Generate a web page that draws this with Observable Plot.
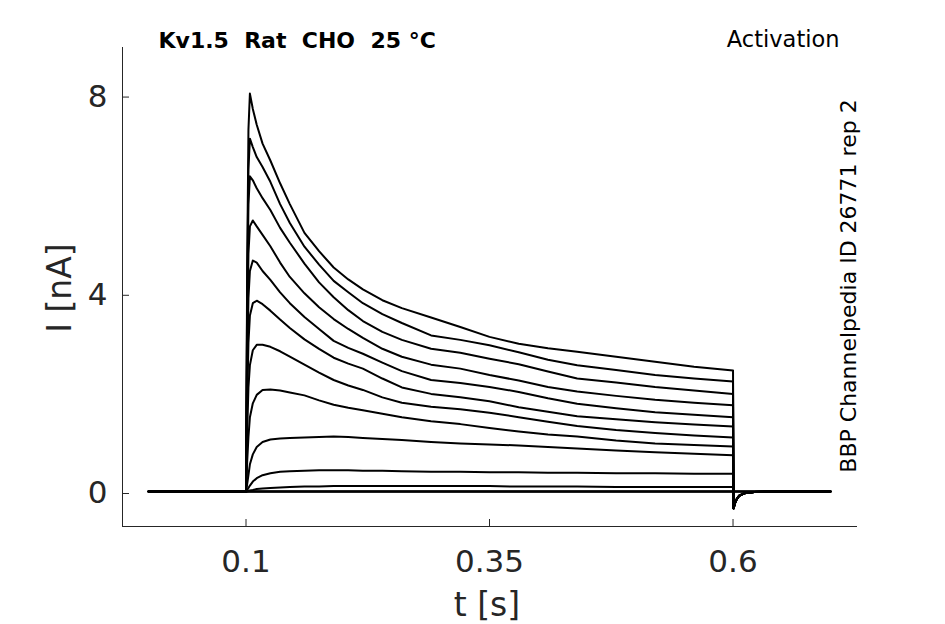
<!DOCTYPE html>
<html><head><meta charset="utf-8">
<script src="https://cdn.jsdelivr.net/npm/d3@7"></script>
<script src="https://cdn.jsdelivr.net/npm/@observablehq/plot@0.6"></script>
<style>body{margin:0;background:#fff;}</style>
</head><body><div id="chart"></div>
<script>
// Time grid (s) for the step phase, shared by all sweeps
const stepTimes = [0, 0.1, 0.1012, 0.1025, 0.104, 0.107, 0.111, 0.117, 0.125, 0.135, 0.145, 0.16, 0.175, 0.19, 0.205, 0.22, 0.24, 0.26, 0.29, 0.32, 0.35, 0.38, 0.41, 0.44, 0.48, 0.52, 0.56, 0.6];
// Current (nA) per sweep
const i1  = [0, 0, 4.5, 7.3, 8.03, 7.72, 7.40, 7.02, 6.68, 6.22, 5.80, 5.22, 4.85, 4.52, 4.28, 4.08, 3.86, 3.70, 3.51, 3.32, 3.12, 2.98, 2.89, 2.82, 2.72, 2.62, 2.52, 2.44];
const i2  = [0, 0, 4.0, 6.5, 7.12, 6.95, 6.75, 6.55, 6.25, 5.80, 5.42, 4.94, 4.58, 4.25, 4.02, 3.80, 3.58, 3.40, 3.15, 3.06, 2.95, 2.81, 2.66, 2.55, 2.45, 2.35, 2.28, 2.22];
const i3  = [0, 0, 3.6, 5.8, 6.36, 6.28, 6.12, 5.92, 5.68, 5.32, 5.02, 4.60, 4.22, 3.92, 3.66, 3.44, 3.22, 3.06, 2.88, 2.80, 2.68, 2.57, 2.42, 2.28, 2.20, 2.11, 2.04, 1.97];
const i4  = [0, 0, 3.0, 4.8, 5.35, 5.47, 5.35, 5.18, 4.95, 4.62, 4.33, 4.00, 3.72, 3.48, 3.28, 3.10, 2.88, 2.72, 2.56, 2.48, 2.35, 2.24, 2.11, 2.02, 1.93, 1.85, 1.79, 1.74];
const i5  = [0, 0, 2.4, 3.9, 4.45, 4.66, 4.62, 4.45, 4.27, 4.02, 3.80, 3.52, 3.28, 3.04, 2.90, 2.78, 2.60, 2.43, 2.25, 2.19, 2.11, 2.01, 1.88, 1.77, 1.68, 1.60, 1.55, 1.50];
const i6  = [0, 0, 1.8, 3.0, 3.55, 3.80, 3.85, 3.78, 3.65, 3.47, 3.30, 3.07, 2.88, 2.70, 2.58, 2.48, 2.28, 2.10, 1.97, 1.90, 1.82, 1.70, 1.61, 1.52, 1.46, 1.40, 1.35, 1.31];
const i7  = [0, 0, 1.2, 2.1, 2.55, 2.85, 2.96, 2.96, 2.92, 2.83, 2.72, 2.56, 2.40, 2.25, 2.14, 2.05, 1.90, 1.79, 1.71, 1.66, 1.59, 1.50, 1.41, 1.32, 1.24, 1.18, 1.13, 1.09];
const i8  = [0, 0, 0.6, 1.1, 1.5, 1.78, 1.95, 2.05, 2.06, 2.04, 2.00, 1.94, 1.84, 1.75, 1.69, 1.64, 1.57, 1.50, 1.42, 1.36, 1.28, 1.21, 1.15, 1.11, 1.03, 0.97, 0.94, 0.91];
const i9  = [0, 0, 0.15, 0.33, 0.55, 0.75, 0.90, 1.00, 1.05, 1.07, 1.08, 1.09, 1.10, 1.11, 1.10, 1.08, 1.06, 1.04, 1.00, 0.97, 0.95, 0.93, 0.90, 0.87, 0.83, 0.79, 0.76, 0.73];
const i10 = [0, 0, 0.03, 0.07, 0.12, 0.20, 0.27, 0.33, 0.37, 0.40, 0.41, 0.42, 0.43, 0.43, 0.43, 0.42, 0.42, 0.41, 0.40, 0.40, 0.39, 0.39, 0.38, 0.38, 0.37, 0.37, 0.36, 0.36];
const i11 = [0, 0, 0, 0.01, 0.02, 0.03, 0.05, 0.06, 0.07, 0.08, 0.09, 0.10, 0.10, 0.11, 0.11, 0.11, 0.11, 0.11, 0.11, 0.11, 0.11, 0.10, 0.10, 0.10, 0.09, 0.09, 0.09, 0.09];
const i0  = [0, 0, 0, 0, 0, 0, 0, 0, 0, 0, 0, 0, 0, 0, 0, 0, 0, 0, 0, 0, 0, 0, 0, 0, 0, 0, 0, 0];
// Tail current after the step (s, nA)
const tailTimes   = [0.6005, 0.6027, 0.6061, 0.6113, 0.6216, 0.64, 0.7];
const tailCurrent = [-0.34, -0.19, -0.09, -0.036, -0.012, 0, 0];
const tailZero    = [0, 0, 0, 0, 0, 0, 0];
// Axes
const xDomain = [-0.0268, 0.7278];
const yDomain = [-0.706, 8.96];
const xTicks = [0.1, 0.35, 0.6];
const xTickLabels = ["0.1", "0.35", "0.6"];
const yTicks = [0, 4, 8];
const yTickLabels = ["0", "4", "8"];
const titleText = "Kv1.5\u00a0\u00a0Rat\u00a0\u00a0CHO\u00a0\u00a025 \u00b0C";
const protocolText = "Activation";
const sideText = "BBP Channelpedia ID 26771 rep 2";
const xLabel = "t [s]";
const yLabel = "I [nA]";

const sweeps = [i1, i2, i3, i4, i5, i6, i7, i8, i9, i10, i11, i0, i0, i0];
const rows = [];
sweeps.forEach((vals, k) => {
  stepTimes.forEach((t, j) => rows.push({sweep: k, t, i: vals[j]}));
  const tail = vals === i0 ? tailZero : tailCurrent;
  tailTimes.forEach((t, j) => rows.push({sweep: k, t, i: tail[j]}));
});

const axisColor = "#262626";
const chart = Plot.plot({
  width: 945, height: 624,
  marginLeft: 122, marginRight: 88, marginTop: 47, marginBottom: 98,
  style: {fontFamily: "'DejaVu Sans', sans-serif", background: "white", color: axisColor, overflow: "visible"},
  x: {domain: xDomain},
  y: {domain: yDomain},
  marks: [
    Plot.ruleX([xDomain[0]], {stroke: axisColor, strokeWidth: 1}),
    Plot.ruleY([yDomain[0]], {stroke: axisColor, strokeWidth: 1}),
    Plot.axisX({ticks: xTicks, tickFormat: d => xTickLabels[xTicks.indexOf(d)], tickSize: -7, tickPadding: 30, fontSize: 31, label: null}),
    Plot.axisY({ticks: yTicks, tickFormat: d => yTickLabels[yTicks.indexOf(d)], tickSize: -7, tickPadding: 22, fontSize: 31, dy: 2, label: null}),
    Plot.line(rows, {x: "t", y: "i", z: "sweep", stroke: "black", strokeWidth: 2, strokeLinejoin: "round"}),
    Plot.text([titleText], {frameAnchor: "top-left", dx: 36, dy: 0, textAnchor: "start", lineAnchor: "bottom", fontWeight: "bold", fontSize: 22, fill: "black"}),
    Plot.text([protocolText], {frameAnchor: "top-right", dx: -18, dy: -1, textAnchor: "end", lineAnchor: "bottom", fontSize: 22.5, fill: "black"}),
    Plot.text([sideText], {frameAnchor: "right", dx: -9, dy: -1, rotate: -90, textAnchor: "middle", lineAnchor: "middle", fontSize: 22, fill: "black"}),
    Plot.text([yLabel], {frameAnchor: "left", dx: -62, dy: 1, rotate: -90, textAnchor: "middle", lineAnchor: "middle", fontSize: 33, fill: axisColor}),
    Plot.text([xLabel], {frameAnchor: "bottom", dx: -3, dy: 89, textAnchor: "middle", lineAnchor: "bottom", fontSize: 33, fill: axisColor})
  ]
});
document.getElementById("chart").appendChild(chart);
</script>
</body></html>
